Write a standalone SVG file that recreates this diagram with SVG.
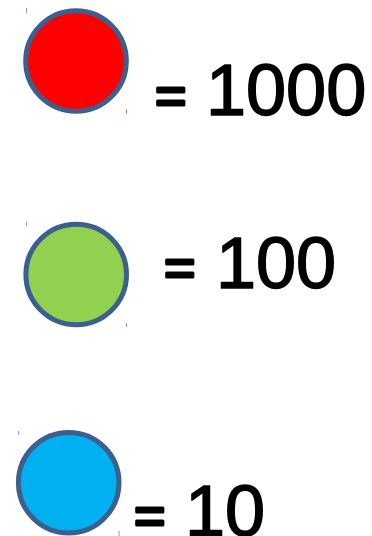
<svg xmlns="http://www.w3.org/2000/svg" width="372" height="536" viewBox="0 0 372 536">
<style>
.c{stroke:#3D5F8D;stroke-width:5}
.t{stroke:#7F9DC4;stroke-width:1}
.lbl{font-family:"Liberation Sans",Arial,sans-serif;font-size:72px;fill:#000;stroke:#000;stroke-width:1.5;stroke-linejoin:round}
.eq{font-size:54px;stroke-width:3}
</style>
<rect width="372" height="536" fill="#fff"/>
<g id="node-1000">
<line class="t" x1="26.5" y1="8" x2="26.5" y2="13"/>
<line class="t" x1="126.5" y1="109" x2="126.5" y2="114"/>
<circle class="c" cx="76" cy="61" r="50.3" fill="#FF0000"/>
<text class="lbl"><tspan class="eq" x="155" y="114">=</tspan> <tspan x="206" y="115">1000</tspan></text>
</g>
<g id="node-100">
<line class="t" x1="26.5" y1="222" x2="26.5" y2="226"/>
<line class="t" x1="126.5" y1="323" x2="126.5" y2="327"/>
<circle class="c" cx="76.2" cy="274.5" r="50.3" fill="#92D050"/>
<text class="lbl"><tspan class="eq" x="164" y="286">=</tspan> <tspan x="216" y="288">100</tspan></text>
</g>
<g id="node-10">
<line class="t" x1="18.7" y1="431" x2="18.7" y2="435"/>
<line class="t" x1="119" y1="531" x2="119" y2="536"/>
<circle class="c" cx="68.7" cy="482.7" r="50.3" fill="#00B0F0"/>
<text class="lbl"><tspan class="eq" x="134" y="534">=</tspan> <tspan x="185" y="536">10</tspan></text>
</g>
<g id="connectors"/>
</svg>
